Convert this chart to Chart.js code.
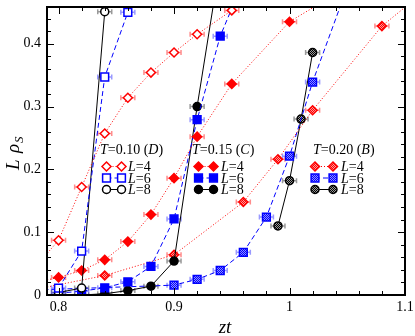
<!DOCTYPE html>
<html>
<head>
<meta charset="utf-8">
<script src="https://cdn.jsdelivr.net/npm/chart.js@4.4.0/dist/chart.umd.min.js"></script>
<style>
html, body { margin: 0; padding: 0; background: #fff; }
</style>
</head>
<body>
<canvas id="c" width="415" height="336"></canvas>
<script>
// tick labels
const xTickVals = [0.8, 0.9, 1.0, 1.1];
const xTickText = ['0.8', '0.9', '1', '1.1'];
const yTickVals = [0, 0.1, 0.2, 0.3, 0.4];
const yTickText = ['0', '0.1', '0.2', '0.3', '0.4'];

// T = 0.10 (D)
const t10L4x = [0.78, 0.80, 0.82, 0.84, 0.86, 0.88, 0.90, 0.92, 0.95];
const t10L4y = [0.045, 0.087, 0.172, 0.257, 0.314, 0.354, 0.386, 0.415, 0.453];
const t10L6x = [0.80, 0.82, 0.84, 0.86, 0.88];
const t10L6y = [0.011, 0.070, 0.347, 0.450, 0.55];
const t10L8x = [0.80, 0.82, 0.84];
const t10L8y = [0.004, 0.011, 0.451];

// T = 0.15 (C)
const t15L4x = [0.78, 0.80, 0.82, 0.84, 0.86, 0.88, 0.90, 0.92, 0.95, 1.00, 1.05];
const t15L4y = [0.020, 0.028, 0.039, 0.056, 0.085, 0.128, 0.186, 0.252, 0.336, 0.435, 0.49];
const t15L6x = [0.80, 0.82, 0.84, 0.86, 0.88, 0.90, 0.92, 0.94, 0.96];
const t15L6y = [0.003, 0.006, 0.0115, 0.021, 0.0455, 0.121, 0.279, 0.412, 0.50];
const t15L8x = [0.82, 0.84, 0.86, 0.88, 0.90, 0.92, 0.94];
const t15L8y = [0.000, 0.002, 0.007, 0.014, 0.054, 0.300, 0.53];

// T = 0.20 (B)
const t20L4x = [0.78, 0.84, 0.90, 0.96, 0.99, 1.02, 1.08, 1.12];
const t20L4y = [0.009, 0.031, 0.064, 0.148, 0.216, 0.294, 0.428, 0.488];
const t20L6x = [0.78, 0.90, 0.92, 0.94, 0.96, 0.98, 1.00, 1.02, 1.06];
const t20L6y = [0.008, 0.0157, 0.025, 0.039, 0.068, 0.124, 0.221, 0.339, 0.54];
const t20L8x = [0.99, 1.00, 1.01, 1.02];
const t20L8y = [0.110, 0.182, 0.280, 0.386];

const SERIF = '"Liberation Serif", "Times New Roman", serif';
const ctx = document.getElementById('c').getContext('2d');

function checker(c1, c2) {
    const p = document.createElement('canvas');
    p.width = 2; p.height = 2;
    const g = p.getContext('2d');
    g.fillStyle = c2; g.fillRect(0, 0, 2, 2);
    g.fillStyle = c1; g.fillRect(0, 0, 1, 1); g.fillRect(1, 1, 1, 1);
    return ctx.createPattern(p, 'repeat');
}

const RED = '#ff0000', BLUE = '#0000ff', BLACK = '#000000';
const lineStyle = {
    4: { color: RED, dash: [1, 2], marker: 'rectRot', r: 4.5, err: 'rgba(255,0,0,0.45)' },
    6: { color: BLUE, dash: [5, 3], marker: 'rect', r: 5.5, err: 'rgba(0,0,255,0.4)' },
    8: { color: BLACK, dash: [], marker: 'circle', r: 4, err: 'rgba(0,0,0,0.4)' }
};
const fills = {
    open: { 4: '#ffffff', 6: '#ffffff', 8: '#ffffff' },
    full: { 4: RED, 6: BLUE, 8: BLACK },
    dots: { 4: checker(RED, '#ff9a9a'), 6: checker(BLUE, '#8f8fff'), 8: checker(BLACK, '#9a9a9a') }
};

function series(label, L, kind, xs, ys) {
    const s = lineStyle[L];
    return {
        label: label,
        data: xs.map((x, i) => ({ x: x, y: ys[i] })),
        borderColor: s.color,
        borderWidth: 1,
        borderDash: s.dash,
        pointStyle: s.marker,
        pointRadius: s.r,
        pointBorderWidth: 1.5,
        pointBorderColor: s.color,
        pointBackgroundColor: fills[kind][L],
        errColor: s.err,
        tension: 0,
        fill: false
    };
}

const datasets = [
    series('T=0.10 L=4', 4, 'open', t10L4x, t10L4y),
    series('T=0.10 L=6', 6, 'open', t10L6x, t10L6y),
    series('T=0.10 L=8', 8, 'open', t10L8x, t10L8y),
    series('T=0.15 L=4', 4, 'full', t15L4x, t15L4y),
    series('T=0.15 L=6', 6, 'full', t15L6x, t15L6y),
    series('T=0.15 L=8', 8, 'full', t15L8x, t15L8y),
    series('T=0.20 L=4', 4, 'dots', t20L4x, t20L4y),
    series('T=0.20 L=6', 6, 'dots', t20L6x, t20L6y),
    series('T=0.20 L=8', 8, 'dots', t20L8x, t20L8y)
];

function drawMarker(g, style, r, x, y, fill, stroke) {
    g.save();
    g.setLineDash([]);
    g.fillStyle = fill; g.strokeStyle = stroke; g.lineWidth = 1.5;
    g.beginPath();
    if (style === 'rectRot') {
        g.moveTo(x - r, y); g.lineTo(x, y - r); g.lineTo(x + r, y); g.lineTo(x, y + r); g.closePath();
    } else if (style === 'rect') {
        const s = Math.SQRT1_2 * r;
        g.rect(x - s, y - s, 2 * s, 2 * s);
    } else {
        g.arc(x, y, r, 0, Math.PI * 2);
    }
    g.fill(); g.stroke();
    g.restore();
}

// horizontal error bars behind the markers
const errBars = {
    id: 'errBars',
    beforeDatasetsDraw(chart) {
        const g = chart.ctx, a = chart.chartArea;
        g.save();
        g.beginPath(); g.rect(a.left, a.top, a.right - a.left, a.bottom - a.top); g.clip();
        chart.data.datasets.forEach((ds, i) => {
            g.strokeStyle = ds.errColor; g.lineWidth = 1.5;
            chart.getDatasetMeta(i).data.forEach(p => {
                g.beginPath();
                g.moveTo(p.x - 7, p.y); g.lineTo(p.x + 7, p.y);
                g.moveTo(p.x - 7, p.y - 2.5); g.lineTo(p.x - 7, p.y + 2.5);
                g.moveTo(p.x + 7, p.y - 2.5); g.lineTo(p.x + 7, p.y + 2.5);
                g.stroke();
            });
        });
        g.restore();
    }
};

// frame with inward ticks on all four sides, axis titles
const frame = {
    id: 'frame',
    afterDraw(chart) {
        const g = chart.ctx, a = chart.chartArea, sx = chart.scales.x, sy = chart.scales.y;
        g.save();
        g.strokeStyle = '#000';
        g.lineWidth = 1;
        g.beginPath();
        for (let k = 40; k <= 55; k++) {
            const v = k / 50, px = Math.round(sx.getPixelForValue(v)) + 0.5;
            if (px < a.left || px > a.right) continue;
            const len = (k % 5 === 0) ? 7 : 4;
            g.moveTo(px, a.bottom); g.lineTo(px, a.bottom - len);
            g.moveTo(px, a.top); g.lineTo(px, a.top + len);
        }
        for (let k = 0; k <= 22; k++) {
            const v = k / 50, py = Math.round(sy.getPixelForValue(v)) + 0.5;
            if (py < a.top || py > a.bottom) continue;
            const len = (k % 5 === 0) ? 7 : 4;
            g.moveTo(a.left, py); g.lineTo(a.left + len, py);
            g.moveTo(a.right, py); g.lineTo(a.right - len, py);
        }
        g.stroke();
        g.lineWidth = 2;
        g.strokeRect(a.left, a.top, a.right - a.left, a.bottom - a.top);

        g.fillStyle = '#000';
        g.textBaseline = 'alphabetic';
        // x title
        g.font = 'italic 19px ' + SERIF;
        g.textAlign = 'center';
        g.fillText('zt', 225, 333);
        // y title
        g.translate(19, 170);
        g.rotate(-Math.PI / 2);
        g.textAlign = 'left';
        g.font = 'italic 19px ' + SERIF;
        g.fillText('L', 0, 0);
        g.fillText('\u03c1', 17, 0);
        g.font = 'italic 13px ' + SERIF;
        g.fillText('S', 27, 4);
        g.restore();
    }
};

// in-plot legends, one block per temperature
const legendBlocks = [
    { title: ['0.10', 'D'], kind: 'open', tx: 100, mx: 106.5, gap: 15, lx: 128 },
    { title: ['0.15', 'C'], kind: 'full', tx: 192, mx: 198.5, gap: 15, lx: 221 },
    { title: ['0.20', 'B'], kind: 'dots', tx: 313, mx: 315, gap: 18, lx: 341 }
];
const legendRows = [4, 6, 8];

function richText(g, parts, x, y) {
    parts.forEach(p => {
        g.font = (p[1] ? 'italic ' : '') + '14px ' + SERIF;
        g.fillText(p[0], x, y);
        x += g.measureText(p[0]).width;
    });
}

const blockLegend = {
    id: 'blockLegend',
    afterDraw(chart) {
        const g = chart.ctx;
        g.save();
        g.fillStyle = '#000';
        g.textAlign = 'left';
        g.textBaseline = 'alphabetic';
        legendBlocks.forEach(b => {
            richText(g, [['T', 1], ['=' + b.title[0] + ' (', 0], [b.title[1], 1], [')', 0]], b.tx, 154);
            legendRows.forEach((L, i) => {
                const s = lineStyle[L], y = 166.5 + i * 11.5;
                g.strokeStyle = s.color; g.lineWidth = 1; g.setLineDash(s.dash);
                g.beginPath(); g.moveTo(b.mx, y); g.lineTo(b.mx + b.gap, y); g.stroke();
                drawMarker(g, s.marker, s.r, b.mx, y, fills[b.kind][L], s.color);
                drawMarker(g, s.marker, s.r, b.mx + b.gap, y, fills[b.kind][L], s.color);
                g.fillStyle = '#000';
                richText(g, [['L', 1], ['=' + L, 0]], b.lx, y + 4.5);
            });
        });
        g.restore();
    }
};

const chart = new Chart(ctx, {
    type: 'line',
    data: { datasets: datasets },
    options: {
        responsive: false,
        animation: false,
        layout: { padding: { top: 3, right: 10, left: 0, bottom: 0 } },
        plugins: { legend: { display: false }, tooltip: { enabled: false } },
        scales: {
            x: {
                type: 'linear', min: 0.79, max: 1.1,
                grid: { display: false, drawTicks: false },
                border: { display: false },
                ticks: {
                    color: '#000', padding: 4, maxRotation: 0,
                    font: { family: SERIF, size: 14 },
                    callback: (v) => xTickText[xTickVals.findIndex(t => Math.abs(t - v) < 1e-6)]
                },
                afterBuildTicks: (s) => { s.ticks = xTickVals.map(v => ({ value: v })); },
                afterFit: (s) => { s.height = 41; s.paddingLeft = 0; s.paddingRight = 0; }
            },
            y: {
                type: 'linear', min: 0, max: 0.4584,
                grid: { display: false, drawTicks: false },
                border: { display: false },
                ticks: {
                    color: '#000', padding: 6,
                    font: { family: SERIF, size: 14 },
                    callback: (v) => yTickText[yTickVals.findIndex(t => Math.abs(t - v) < 1e-6)]
                },
                afterBuildTicks: (s) => { s.ticks = yTickVals.map(v => ({ value: v })); },
                afterFit: (s) => { s.width = 47; s.paddingTop = 0; s.paddingBottom = 0; }
            }
        }
    },
    plugins: [errBars, frame, blockLegend]
});
</script>
</body>
</html>
